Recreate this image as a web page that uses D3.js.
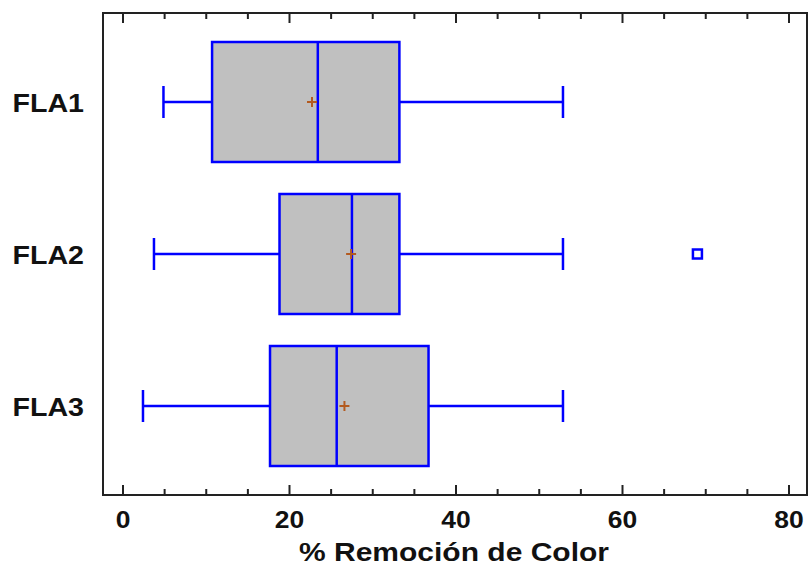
<!DOCTYPE html>
<html>
<head>
<meta charset="utf-8">
<script src="https://cdn.jsdelivr.net/npm/d3@7"></script>
<style>
  body { margin: 0; background: #fff; }
  text { font-family: "Liberation Sans", Arial, sans-serif; font-weight: bold; fill: #111; }
</style>
</head>
<body>
<div id="chart"></div>
<script>
// box plot data
var categories = ["FLA1", "FLA2", "FLA3"]
var mins    = [4.86, 3.72, 2.4]
var q1s     = [10.7, 18.8, 17.66]
var medians = [23.4, 27.5, 25.67]
var means   = [22.7, 27.4, 26.6]
var q3s     = [33.2, 33.2, 36.7]
var maxs    = [52.85, 52.85, 52.85]
var outliers = [{cat: "FLA2", val: 69.0}]
var xTicks = [0, 20, 40, 60, 80]
var xMinorTicks = d3.range(0, 81, 5)
var xTitle = "% Remoción de Color"

var W = 809, H = 565

var frame = { left: 103, right: 807, top: 13, bottom: 495 }

var svg = d3.select("#chart")
    .append("svg")
    .attr("width", W)
    .attr("height", H)

var x = d3.scaleLinear()
    .domain([0, 80])
    .range([123, 789])

var y = d3.scalePoint()
    .domain(categories)
    .range([102, 406])

var boxH = 120, capH = 32
var blue = "#0000ff"

var data = categories.map(function(c, i){
    return {cat: c, min: mins[i], q1: q1s[i], med: medians[i], mean: means[i], q3: q3s[i], max: maxs[i]}
})

var g = svg.append("g")

// whiskers
g.selectAll(".whisk-lo")
    .data(data).enter().append("line")
    .attr("x1", d => x(d.min)).attr("x2", d => x(d.q1))
    .attr("y1", d => y(d.cat)).attr("y2", d => y(d.cat))
    .attr("stroke", blue).attr("stroke-width", 2.5)

g.selectAll(".whisk-hi")
    .data(data).enter().append("line")
    .attr("x1", d => x(d.q3)).attr("x2", d => x(d.max))
    .attr("y1", d => y(d.cat)).attr("y2", d => y(d.cat))
    .attr("stroke", blue).attr("stroke-width", 2.5)

// caps
g.selectAll(".cap-lo")
    .data(data).enter().append("line")
    .attr("x1", d => x(d.min)).attr("x2", d => x(d.min))
    .attr("y1", d => y(d.cat) - capH/2).attr("y2", d => y(d.cat) + capH/2)
    .attr("stroke", blue).attr("stroke-width", 2.5)

g.selectAll(".cap-hi")
    .data(data).enter().append("line")
    .attr("x1", d => x(d.max)).attr("x2", d => x(d.max))
    .attr("y1", d => y(d.cat) - capH/2).attr("y2", d => y(d.cat) + capH/2)
    .attr("stroke", blue).attr("stroke-width", 2.5)

// boxes
g.selectAll(".box")
    .data(data).enter().append("rect")
    .attr("x", d => x(d.q1))
    .attr("width", d => x(d.q3) - x(d.q1))
    .attr("y", d => y(d.cat) - boxH/2)
    .attr("height", boxH)
    .attr("fill", "#c0c0c0")
    .attr("stroke", blue).attr("stroke-width", 2.5)

// medians
g.selectAll(".median")
    .data(data).enter().append("line")
    .attr("x1", d => x(d.med)).attr("x2", d => x(d.med))
    .attr("y1", d => y(d.cat) - boxH/2).attr("y2", d => y(d.cat) + boxH/2)
    .attr("stroke", blue).attr("stroke-width", 2.5)

// mean markers
var plus = g.selectAll(".mean")
    .data(data).enter().append("g")
    .attr("transform", d => "translate(" + x(d.mean) + "," + y(d.cat) + ")")
plus.append("line").attr("x1", -5).attr("x2", 5).attr("y1", 0).attr("y2", 0)
    .attr("stroke", "#b35a1f").attr("stroke-width", 2)
plus.append("line").attr("x1", 0).attr("x2", 0).attr("y1", -5).attr("y2", 5)
    .attr("stroke", "#b35a1f").attr("stroke-width", 2)

// outliers
g.selectAll(".outlier")
    .data(outliers).enter().append("rect")
    .attr("x", d => x(d.val) - 4.5)
    .attr("y", d => y(d.cat) - 4.5)
    .attr("width", 9).attr("height", 9)
    .attr("fill", "none")
    .attr("stroke", blue).attr("stroke-width", 2.5)

// frame
svg.append("rect")
    .attr("x", frame.left).attr("y", frame.top)
    .attr("width", frame.right - frame.left)
    .attr("height", frame.bottom - frame.top)
    .attr("fill", "none")
    .attr("stroke", "#222").attr("stroke-width", 2)

// ticks, bottom and top
var minorOnly = xMinorTicks.filter(t => xTicks.indexOf(t) < 0)
var tickG = svg.append("g")
tickG.selectAll(".tb-major").data(xTicks).enter().append("line")
    .attr("x1", d => x(d)).attr("x2", d => x(d))
    .attr("y1", frame.bottom).attr("y2", frame.bottom - 10)
    .attr("stroke", "#222").attr("stroke-width", 2)
tickG.selectAll(".tb-minor").data(minorOnly).enter().append("line")
    .attr("x1", d => x(d)).attr("x2", d => x(d))
    .attr("y1", frame.bottom).attr("y2", frame.bottom - 6)
    .attr("stroke", "#222").attr("stroke-width", 2)
tickG.selectAll(".tt-major").data(xTicks).enter().append("line")
    .attr("x1", d => x(d)).attr("x2", d => x(d))
    .attr("y1", frame.top).attr("y2", frame.top + 10)
    .attr("stroke", "#222").attr("stroke-width", 2)
tickG.selectAll(".tt-minor").data(minorOnly).enter().append("line")
    .attr("x1", d => x(d)).attr("x2", d => x(d))
    .attr("y1", frame.top).attr("y2", frame.top + 6)
    .attr("stroke", "#222").attr("stroke-width", 2)

// tick labels
svg.selectAll(".xlab").data(xTicks).enter().append("text")
    .attr("transform", d => "translate(" + x(d) + ",528) scale(1.15,1)")
    .attr("text-anchor", "middle")
    .attr("font-size", 23)
    .text(d => d)

// category labels
svg.selectAll(".ylab").data(categories).enter().append("text")
    .attr("transform", d => "translate(84," + (y(d) + 10) + ") scale(1.1,1)")
    .attr("text-anchor", "end")
    .attr("font-size", 26)
    .text(d => d)

// axis title
svg.append("text")
    .attr("transform", "translate(454,561) scale(1.2,1)")
    .attr("text-anchor", "middle")
    .attr("font-size", 25)
    .text(xTitle)
</script>
</body>
</html>
